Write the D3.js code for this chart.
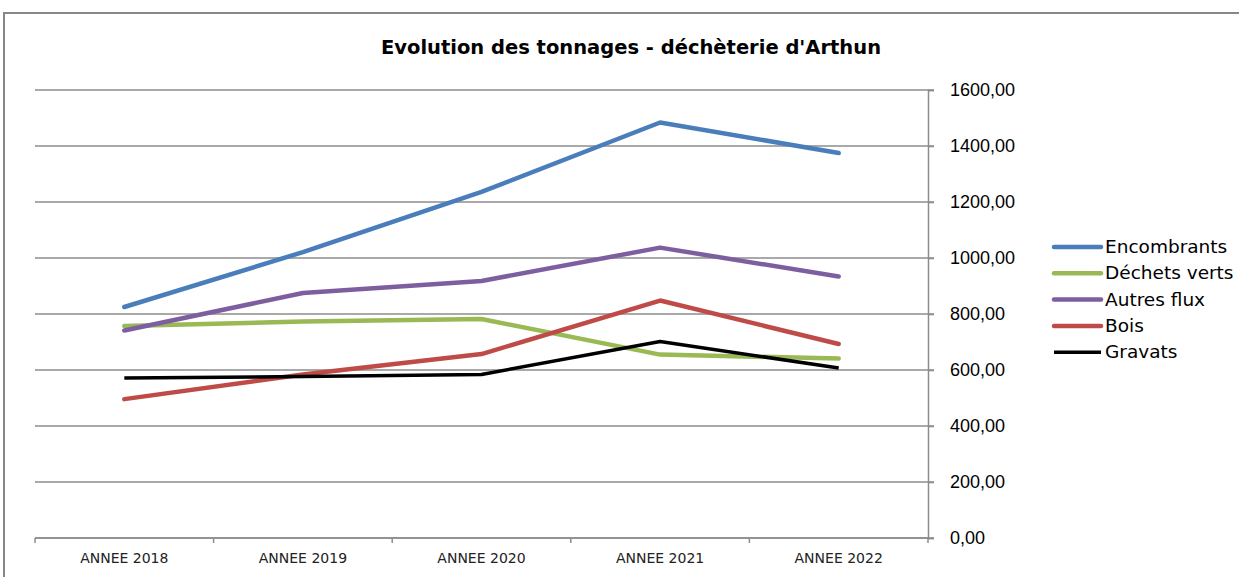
<!DOCTYPE html>
<html>
  <head>
    <meta charset="utf-8">
    <title>Evolution des tonnages</title>
    <style>
      body { margin: 0; background: #fff; }
      svg { display: block; }
    </style>
  </head>
  <body>
    <script src="https://d3js.org/d3.v7.min.js"></script>
    <script>
      // values (tonnes)
      const years = ["ANNEE 2018", "ANNEE 2019", "ANNEE 2020", "ANNEE 2021", "ANNEE 2022"];
      const encombrants = [825, 1021, 1236, 1484, 1375];
      const dechetsVerts = [757, 773, 782, 655, 641];
      const autresFlux = [741, 875, 918, 1037, 934];
      const bois = [496, 584, 657, 848, 693];
      const gravats = [571, 577, 584, 702, 607];
      const yTicks = [0, 200, 400, 600, 800, 1000, 1200, 1400, 1600];

      const series = [
        { name: "Encombrants", values: encombrants, color: "#4a7ebb", w: 4.5 },
        { name: "Déchets verts", values: dechetsVerts, color: "#98b954", w: 4.5 },
        { name: "Autres flux", values: autresFlux, color: "#7d5fa0", w: 4.5 },
        { name: "Bois", values: bois, color: "#be4b48", w: 4.5 },
        { name: "Gravats", values: gravats, color: "#000000", w: 3.5 }
      ];

      const W = 1239, H = 577;
      const plotLeft = 35, plotRight = 928, plotTop = 90, plotBottom = 538;

      const svg = d3.select("body").append("svg")
        .attr("width", W)
        .attr("height", H);

      // chart frame
      svg.append("rect")
        .attr("x", 4).attr("y", 13)
        .attr("width", W + 10).attr("height", H + 10)
        .attr("fill", "none")
        .attr("stroke", "#878787")
        .attr("stroke-width", 2);

      svg.append("text")
        .attr("x", 631).attr("y", 54)
        .attr("text-anchor", "middle")
        .attr("font-family", "'DejaVu Sans', sans-serif")
        .attr("font-weight", "bold")
        .attr("font-size", 19.5)
        .attr("fill", "#000")
        .text("Evolution des tonnages - déchèterie d'Arthun");

      const x = d3.scalePoint().domain(years).range([plotLeft, plotRight]).padding(0.5);
      const y = d3.scaleLinear().domain([0, 1600]).range([plotBottom, plotTop]);

      // gridlines
      svg.append("g")
        .selectAll("line")
        .data(yTicks)
        .enter()
        .append("line")
        .attr("x1", plotLeft)
        .attr("x2", plotRight + 6)
        .attr("y1", (d) => y(d))
        .attr("y2", (d) => y(d))
        .attr("stroke", "#8c8c8c")
        .attr("stroke-width", 1.5);

      // right value axis
      const yAxis = svg.append("g")
        .attr("transform", `translate(${plotRight},0)`)
        .call(d3.axisRight(y).tickValues(yTicks).tickSize(6).tickPadding(16)
          .tickFormat((d) => d3.format(".2f")(d).replace(".", ",")));
      yAxis.select(".domain").attr("stroke", "#8c8c8c").attr("stroke-width", 1.5);
      yAxis.selectAll(".tick line").attr("stroke", "#8c8c8c").attr("stroke-width", 1.5);
      yAxis.selectAll(".tick text")
        .attr("font-family", "'Liberation Sans', sans-serif")
        .attr("font-size", 18)
        .attr("fill", "#000");

      // category axis with ticks at category boundaries
      const step = x.step();
      const bounds = d3.range(years.length + 1).map((i) => plotLeft + i * step);
      svg.append("line")
        .attr("x1", plotLeft).attr("x2", plotRight)
        .attr("y1", plotBottom).attr("y2", plotBottom)
        .attr("stroke", "#8c8c8c").attr("stroke-width", 1.5);
      svg.append("g")
        .selectAll("line")
        .data(bounds)
        .enter()
        .append("line")
        .attr("x1", (d) => d).attr("x2", (d) => d)
        .attr("y1", plotBottom).attr("y2", plotBottom + 5)
        .attr("stroke", "#8c8c8c").attr("stroke-width", 1.5);
      svg.append("g")
        .selectAll("text")
        .data(years)
        .enter()
        .append("text")
        .attr("x", (d) => x(d))
        .attr("y", 563)
        .attr("text-anchor", "middle")
        .attr("font-family", "'DejaVu Sans', sans-serif")
        .attr("font-size", 14)
        .attr("fill", "#222")
        .text((d) => d);

      const line = d3.line()
        .x((d, i) => x(years[i]))
        .y((d) => y(d));

      svg.append("g")
        .selectAll("path")
        .data(series)
        .enter()
        .append("path")
        .attr("d", (d) => line(d.values))
        .attr("fill", "none")
        .attr("stroke", (d) => d.color)
        .attr("stroke-width", (d) => d.w)
        .attr("stroke-linecap", (d) => d.color === "#000000" ? "butt" : "round")
        .attr("stroke-linejoin", "round");

      // legend
      const legend = svg.append("g")
        .selectAll("g")
        .data(series)
        .enter()
        .append("g")
        .attr("transform", (d, i) => `translate(1054,${247 + i * 26.3})`);
      legend.append("line")
        .attr("x1", 0).attr("x2", 47)
        .attr("stroke", (d) => d.color)
        .attr("stroke-width", (d) => d.w)
        .attr("stroke-linecap", (d) => d.color === "#000000" ? "butt" : "round");
      legend.append("text")
        .attr("x", 51)
        .attr("y", 6)
        .attr("font-family", "'DejaVu Sans', sans-serif")
        .attr("font-size", 18.5)
        .attr("fill", "#000")
        .text((d) => d.name);
    </script>
  </body>
</html>
